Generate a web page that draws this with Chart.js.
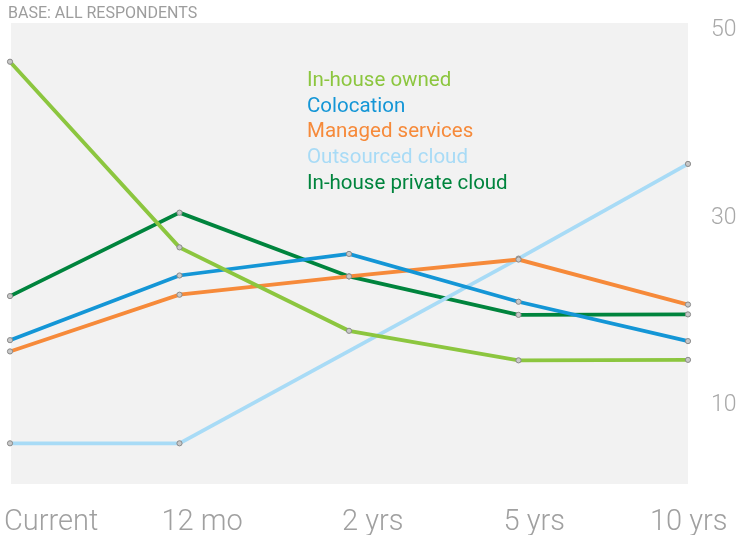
<!DOCTYPE html>
<html>
<head>
<meta charset="utf-8">
<script src="https://cdn.jsdelivr.net/npm/chart.js@4"></script>
<style>
html,body{margin:0;padding:0;background:#fff;}
#wrap{width:739px;height:535px;position:relative;}
</style>
</head>
<body>
<div id="wrap"><canvas id="c" width="739" height="535"></canvas></div>
<script>
const categories = ["Current", "12 mo", "2 yrs", "5 yrs", "10 yrs"];
const inHouseOwned = [46.4, 26.6, 17.7, 14.55, 14.6];
const colocation = [16.7, 23.6, 25.9, 20.8, 16.6];
const managedServices = [15.5, 21.55, 23.5, 25.3, 20.5];
const outsourcedCloud = [5.7, 5.7, null, 25.4, 35.5];
const inHousePrivateCloud = [21.4, 30.3, 23.5, 19.4, 19.45];
const yTicks = [10, 30, 50];
const titleText = "BASE: ALL RESPONDENTS";

const seriesNames = ["In-house owned", "Colocation", "Managed services", "Outsourced cloud", "In-house private cloud"];
const seriesData = [inHouseOwned, colocation, managedServices, outsourcedCloud, inHousePrivateCloud];
const seriesColors = ["#8cc63f", "#1496d6", "#f68a3a", "#a8dbf6", "#00843d"];

const bgPlugin = {
  id: 'bg',
  beforeDraw(chart) {
    const {ctx, chartArea: a} = chart;
    ctx.save();
    ctx.fillStyle = '#f2f2f2';
    ctx.fillRect(a.left + 1, a.top, a.right - a.left - 1, a.bottom - a.top);
    ctx.restore();
  }
};

const textPlugin = {
  id: 'texts',
  afterDraw(chart) {
    const {ctx} = chart;
    const xs = chart.scales.x;
    ctx.save();
    // title
    ctx.font = '400 16px Roboto';
    ctx.fillStyle = '#9d9d9d';
    ctx.textAlign = 'left';
    ctx.textBaseline = 'alphabetic';
    ctx.fillText(titleText, 8, 18);
    // x labels
    const offs = [-6, -18, -7, -15, -38];
    ctx.font = '300 29px Roboto';
    ctx.fillStyle = '#a0a0a0';
    categories.forEach((c, i) => {
      ctx.fillText(c, xs.getPixelForValue(i) + offs[i], 530);
    });
    // legend
    ctx.font = '400 20.5px Roboto';
    seriesNames.forEach((n, i) => {
      ctx.fillStyle = seriesColors[i];
      ctx.fillText(n, 307, 86 + i * 25.7);
    });
    ctx.restore();
  }
};

new Chart(document.getElementById('c'), {
  type: 'line',
  data: {
    labels: categories,
    datasets: seriesNames.map((n, i) => ({
      label: n,
      data: seriesData[i],
      borderColor: seriesColors[i],
      borderWidth: 3.8,
      pointRadius: 2.6,
      pointBackgroundColor: '#c8c8c8',
      pointBorderColor: '#8a8a8a',
      pointBorderWidth: 1,
      tension: 0,
      spanGaps: true,
      clip: false
    }))
  },
  options: {
    responsive: false,
    animation: false,
    devicePixelRatio: 1,
    layout: {padding: {left: 10, top: 23, bottom: 51, right: 0}},
    plugins: {legend: {display: false}, tooltip: {enabled: false}, title: {display: false}},
    scales: {
      x: {
        display: false,
        offset: false
      },
      y: {
        position: 'right',
        min: 1.36,
        max: 50.53,
        grid: {display: false, drawTicks: false},
        border: {display: false},
        afterBuildTicks(scale) { scale.ticks = yTicks.map(v => ({value: v})); },
        afterFit(scale) { scale.width = 51; scale.paddingTop = 0; scale.paddingBottom = 0; },
        ticks: {
          padding: 23,
          labelOffset: 2.5,
          color: '#a8a8a8',
          font: {family: 'Roboto', size: 23, weight: 300}
        }
      }
    }
  },
  plugins: [bgPlugin, textPlugin]
});
</script>
</body>
</html>
